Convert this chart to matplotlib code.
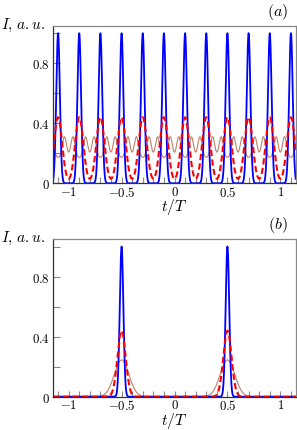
import numpy as np
import matplotlib
matplotlib.use("Agg")
import matplotlib.pyplot as plt
from matplotlib.ticker import FixedLocator, FixedFormatter, MultipleLocator

plt.rcParams['mathtext.fontset'] = 'cm'
plt.rcParams['font.family'] = ['DejaVu Serif']

# ---- data ----
centers_a = [-1.1, -0.9, -0.7, -0.5, -0.3, -0.1, 0.1, 0.3, 0.5, 0.7, 0.9, 1.1]
centers_b = [-0.5, 0.5]
blue_peak = 1.0
red_peak = 0.44
brown_peak_b = 0.245
blue_sigma = 0.017
red_sigma = 0.0386
brown_sigma_b = 0.069
# panel (a) brown: side lobes at +-offset from each pulse centre
brown_a_offset = 0.06
brown_a_base = 0.17
brown_a_lobe = 0.14
brown_a_sigma = 0.02

xticks_major = [-1, -0.5, 0, 0.5, 1]
xtick_labels = [r'$-1$', r'$-0.5$', r'$0$', r'$0.5$', r'$1$']
yticks_major = [0, 0.4, 0.8]
ytick_labels = [r'$0$', r'$0.4$', r'$0.8$']
xlim = (-1.145, 1.145)
ylim = (0, 1.05)

t = np.linspace(xlim[0], xlim[1], 4000)


def pulses(centers, h, s):
    y = np.zeros_like(t)
    for c in centers:
        y += h * np.exp(-(t - c) ** 2 / (2 * s ** 2))
    return y


blue_a = pulses(centers_a, blue_peak, blue_sigma)
red_a = pulses(centers_a, red_peak, red_sigma)
lobes = [c + d for c in [-1.3] + centers_a + [1.3] for d in (-brown_a_offset, brown_a_offset)]
brown_a = brown_a_base + pulses(lobes, brown_a_lobe, brown_a_sigma)

blue_b = pulses(centers_b, blue_peak, blue_sigma)
red_b = pulses(centers_b, red_peak, red_sigma)
brown_b = pulses(centers_b, brown_peak_b, brown_sigma_b)

fig = plt.figure(figsize=(2.97, 4.31), dpi=100)
W, H = 297.0, 431.0
left = 53.3 / W
width = 242.4 / W
ax_a = fig.add_axes([left, 1 - 184.3 / H, width, 157.6 / H])
ax_b = fig.add_axes([left, 1 - 397.7 / H, width, 157.7 / H])

brown_c = '#c0806a'
for ax, br, rd, bl, lab, ytop, yxl in [(ax_a, brown_a, red_a, blue_a, r'$(a)$', 12, 207.5),
                                        (ax_b, brown_b, red_b, blue_b, r'$(b)$', 225, 420.8)]:
    ax.plot(t, br, color=brown_c, lw=0.8)
    ax.plot(t, bl, color='#0000ff', lw=1.3)
    ax.plot(t, rd, color='#ff0000', lw=1.5, dashes=(3, 1.6))
    ax.set_xlim(*xlim)
    ax.set_ylim(*ylim)
    ax.xaxis.set_major_locator(FixedLocator(xticks_major))
    ax.xaxis.set_major_formatter(FixedFormatter(xtick_labels))
    ax.xaxis.set_minor_locator(MultipleLocator(0.1))
    ax.yaxis.set_major_locator(FixedLocator(yticks_major))
    ax.yaxis.set_major_formatter(FixedFormatter(ytick_labels))
    ax.yaxis.set_minor_locator(MultipleLocator(0.2))
    ax.tick_params(which='both', direction='in', length=4, width=0.8,
                   color='#888888', labelsize=9.2, pad=1.2)
    ax.tick_params(axis='y', which='both', length=5, pad=2.5)
    for s in ['top', 'right']:
        ax.spines[s].set_color('#888888')
    for s in ['left', 'bottom']:
        ax.spines[s].set_color('#333333')
    for s in ax.spines.values():
        s.set_linewidth(0.9)
    fig.text((53.3 + 121.2) / W, 1 - yxl / H, r'$t/T$', fontsize=11.3,
             ha='center', va='center')
    fig.text(45 / W, 1 - (ytop + 13) / H, r'$I,\,a.u.$', fontsize=11,
             ha='right', va='center')
    fig.text(278 / W, 1 - ytop / H, lab, fontsize=11.5, ha='center', va='center')

fig.savefig('out.png', dpi=100)
